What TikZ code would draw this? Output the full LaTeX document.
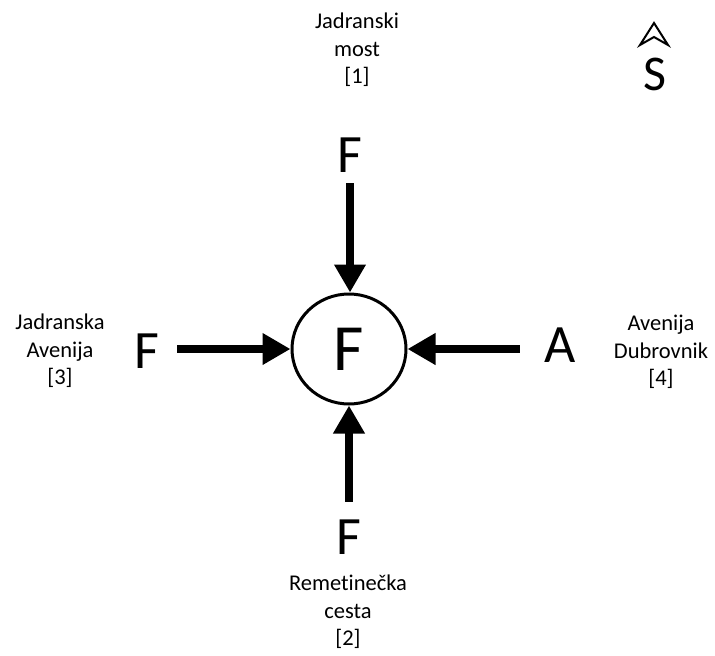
\documentclass[tikz,border=0pt]{standalone}
\usepackage{fontspec}
\setmainfont{Carlito}[Ligatures={NoCommon}]
\usetikzlibrary{shapes.geometric,arrows.meta}
\begin{document}
\begin{tikzpicture}[x=1pt,y=-1pt,
 lbl/.style={align=center,font=\fontsize{22.5}{27.5}\selectfont,inner sep=0pt},
 big/.style={font=\fontsize{54}{54}\selectfont,inner sep=0pt},
 arr/.style={line width=8pt,-{Triangle[length=28pt,width=30pt]}}]
\useasboundingbox (0,0) rectangle (715,656);
\node[ellipse,draw,line width=3pt,minimum width=114pt,minimum height=110pt,inner sep=0pt,font=\fontsize{66}{66}\selectfont] (c) at (349,349) {F};
\node[big] (nt) at (350,155) {F};
\node[big] (nb) at (349,537) {F};
\node[big] (nl) at (147,351) {F};
\node[big] (nr) at (560,345) {A};
\draw[arr,shorten <=10.5pt] (nt.south) -- (nt.south |- c.north);
\draw[arr,shorten <=17.5pt] (nb.north) -- (c.south);
\draw[arr,shorten <=17.6pt] (nl.east |- c.west) -- (c.west);
\draw[arr,shorten <=24.4pt] (nr.west |- c.east) -- (c.east);
\node[lbl] (l1) at (357,50) {Jadranski\\most\\{[1]}};
\node[lbl] (l2) at (348,612) {Remetinečka\\cesta\\{[2]}};
\node[lbl] (l3) at (60,351) {Jadranska\\Avenija\\{[3]}};
\node[lbl] (l4) at (661,352) {Avenija\\Dubrovnik\\{[4]}};
\draw[line width=2pt,line join=miter] (654,23) -- (668,45) -- (654,37) -- (640,45) -- cycle;
\node[font=\fontsize{50}{50}\selectfont,inner sep=0pt] (s) at (655,74) {S};
\end{tikzpicture}
\end{document}
